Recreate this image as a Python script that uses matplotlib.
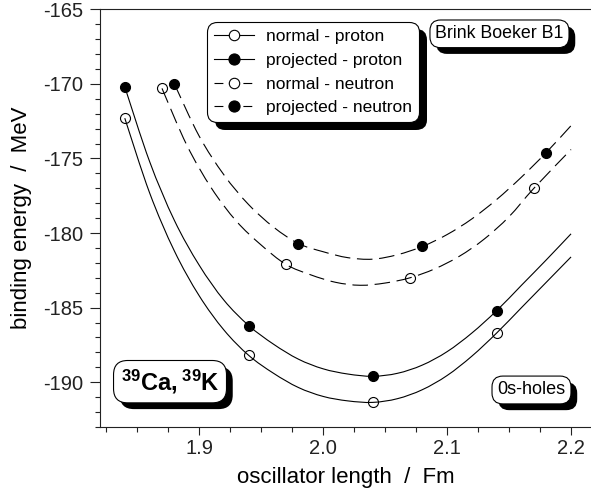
import numpy as np
import matplotlib
matplotlib.use('Agg')
import matplotlib.pyplot as plt
import matplotlib.patheffects as pe
from matplotlib.path import Path
from matplotlib.patches import PathPatch
from matplotlib.lines import Line2D
from matplotlib.ticker import MultipleLocator

plt.rcParams['font.family'] = ['Liberation Sans', 'DejaVu Sans']
plt.rcParams['mathtext.fontset'] = 'custom'
plt.rcParams['mathtext.rm'] = 'Liberation Sans'
plt.rcParams['mathtext.bf'] = 'Liberation Sans:bold'
plt.rcParams['axes.unicode_minus'] = False

# calculated points: oscillator length (fm) vs binding energy (MeV)
b_proton = [1.84, 1.94, 2.04, 2.14]
e_normal_proton = [-172.3, -188.2, -191.35, -186.7]
e_proj_proton = [-170.2, -186.2, -189.6, -185.2]
b_normal_neutron = [1.87, 1.97, 2.07, 2.17]
e_normal_neutron = [-170.3, -182.1, -183.0, -177.0]
b_proj_neutron = [1.88, 1.98, 2.08, 2.18]
e_proj_neutron = [-170.0, -180.7, -180.9, -174.6]

# fitted curves through the points
bc_proton = [1.84, 1.86, 1.88, 1.90, 1.92, 1.94, 1.96, 1.98, 2.00, 2.02,
             2.04, 2.06, 2.08, 2.10, 2.12, 2.14, 2.16, 2.18, 2.20]
ec_normal_proton = [-172.3, -177.3, -181.2, -184.2, -186.5, -188.2, -189.4,
                    -190.35, -190.95, -191.25, -191.35, -191.1, -190.5,
                    -189.55, -188.25, -186.7, -185.0, -183.3, -181.6]
ec_proj_proton = [-170.2, -175.2, -179.15, -182.15, -184.5, -186.2, -187.45,
                  -188.45, -189.1, -189.45, -189.6, -189.4, -188.85, -187.95,
                  -186.7, -185.2, -183.5, -181.8, -180.05]
bc_normal_neutron = [1.87, 1.89, 1.91, 1.93, 1.95, 1.97, 1.99, 2.01, 2.03,
                     2.05, 2.07, 2.09, 2.11, 2.13, 2.15, 2.17, 2.20]
ec_normal_neutron = [-170.3, -174.1, -177.0, -179.2, -180.8, -182.1, -182.8,
                     -183.3, -183.5, -183.35, -183.0, -182.4, -181.55, -180.4,
                     -178.9, -177.0, -174.4]
bc_proj_neutron = [1.88, 1.90, 1.92, 1.94, 1.96, 1.98, 2.00, 2.02, 2.04,
                   2.06, 2.08, 2.10, 2.12, 2.14, 2.16, 2.18, 2.20]
ec_proj_neutron = [-170.0, -173.5, -176.1, -178.1, -179.6, -180.7, -181.25,
                   -181.65, -181.75, -181.45, -180.9, -180.1, -179.05, -177.75,
                   -176.25, -174.6, -172.8]

labels = ['normal - proton', 'projected - proton',
          'normal - neutron', 'projected - neutron']

LW = 0.8
DASH = (0, (14, 6))


def smooth_line(ax, xs, ys, **kw):
    # Catmull-Rom segments drawn as cubic Bezier path
    pts = np.column_stack([xs, ys])
    n = len(pts)
    verts = [pts[0]]
    codes = [Path.MOVETO]
    for i in range(n - 1):
        p0 = pts[max(i - 1, 0)]
        p1, p2 = pts[i], pts[i + 1]
        p3 = pts[min(i + 2, n - 1)]
        verts += [p1 + (p2 - p0) / 6, p2 - (p3 - p1) / 6, p2]
        codes += [Path.CURVE4] * 3
    ax.add_patch(PathPatch(Path(verts, codes), fill=False, ec='black',
                           lw=LW, zorder=2, **kw))


fig = plt.figure(figsize=(5.91, 4.95), dpi=100)
ax = fig.add_axes([100 / 591, 1 - 427 / 495, 491 / 591, 417.7 / 495])

smooth_line(ax, bc_proton, ec_normal_proton)
smooth_line(ax, bc_proton, ec_proj_proton)
smooth_line(ax, bc_normal_neutron, ec_normal_neutron, linestyle=DASH)
smooth_line(ax, bc_proj_neutron, ec_proj_neutron, linestyle=DASH)

mk = dict(linestyle='none', marker='o', ms=7.2, mec='black', mew=LW, zorder=3)
ax.plot(b_proton, e_normal_proton, mfc='none', **mk)
ax.plot(b_proton, e_proj_proton, mfc='black', **mk)
ax.plot(b_normal_neutron, e_normal_neutron, mfc='none', **mk)
ax.plot(b_proj_neutron, e_proj_neutron, mfc='black', **mk)

ax.set_xlim(1.82, 2.2161)
ax.set_ylim(-193, -165)
ax.xaxis.set_major_locator(MultipleLocator(0.1))
ax.xaxis.set_minor_locator(MultipleLocator(0.025))
ax.yaxis.set_major_locator(MultipleLocator(5))
ax.yaxis.set_minor_locator(MultipleLocator(1))
ax.tick_params(which='both', direction='out', width=LW, colors='#222222',
               labelsize=14.5)
ax.tick_params(axis='y', which='major', length=7, pad=5)
ax.tick_params(axis='x', which='major', length=6, pad=3)
ax.tick_params(which='minor', length=3.5)
ax.spines['right'].set_visible(False)
for s in ['left', 'bottom', 'top']:
    ax.spines[s].set_linewidth(LW)
    ax.spines[s].set_color('#222222')

ax.set_xlabel('oscillator length  /  Fm', fontsize=16, labelpad=6)
ax.set_ylabel('binding energy  /  MeV', fontsize=16, labelpad=8)

handles = [
    Line2D([], [], color='k', lw=LW, marker='o', ms=7.5, mfc='white', mec='k', mew=LW),
    Line2D([], [], color='k', lw=LW, marker='o', ms=8, mfc='black', mec='k', mew=LW),
    Line2D([], [], color='k', lw=LW, ls=(0, (8, 5)), marker='o', ms=7.5,
           mfc='white', mec='k', mew=LW),
    Line2D([], [], color='k', lw=LW, ls=(0, (8, 5)), marker='o', ms=8,
           mfc='black', mec='k', mew=LW),
]
leg = ax.legend(handles, labels, loc='upper left', bbox_to_anchor=(0.218, 0.970),
                borderaxespad=0, fontsize=12.5, handlelength=2.3,
                handletextpad=0.7, labelspacing=0.5, borderpad=0.4,
                fancybox=True, framealpha=1, edgecolor='black')
frame = leg.get_frame()
frame.set_linewidth(LW)
frame.set_boxstyle('round', pad=0, rounding_size=0.6)
frame.set_path_effects([pe.SimplePatchShadow(offset=(5.5, -5.5), shadow_rgbFace='black', alpha=1),
                        pe.Normal()])

box = dict(boxstyle='round,pad=0.3,rounding_size=0.6', fc='white', ec='black', lw=LW)
notes = [
    (0.8136, 0.9413, 'Brink Boeker B1', 12.8),
    (0.8788, 0.0886, '0s-holes', 13),
    (0.1426, 0.1085, r'$\mathbf{^{39}Ca,^{39}K}$', 17),
]
for x, y, s, fs in notes:
    t = ax.text(x, y, s, transform=ax.transAxes, ha='center', va='center',
                fontsize=fs, bbox=box, zorder=5)
    t.get_bbox_patch().set_path_effects(
        [pe.SimplePatchShadow(offset=(4.5, -4.5), shadow_rgbFace='black', alpha=1),
         pe.Normal()])

fig.savefig('out.png', dpi=100)
